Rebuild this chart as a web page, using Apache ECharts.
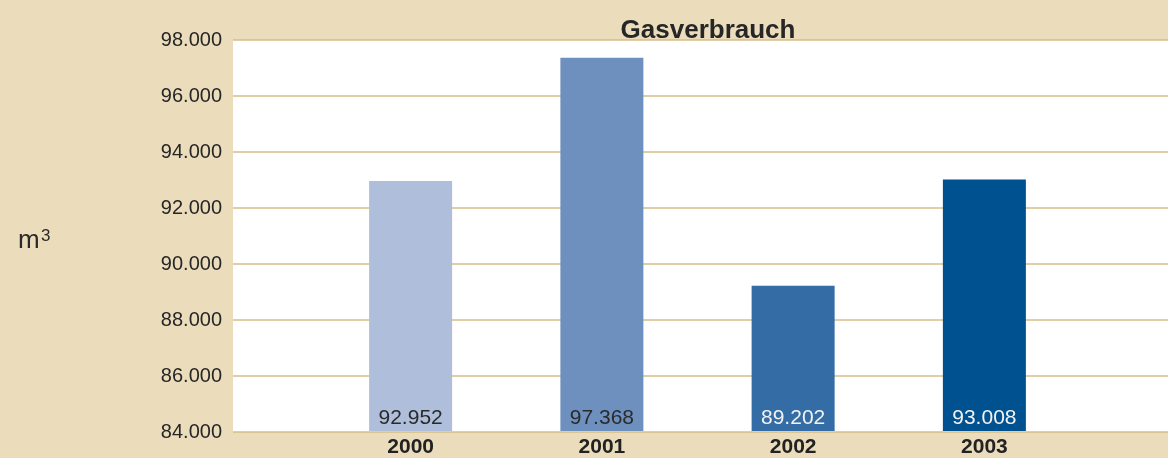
<!DOCTYPE html>
<html>
<head>
<meta charset="utf-8">
<script src="https://cdn.jsdelivr.net/npm/echarts@6/dist/echarts.min.js"></script>
<style>
html,body{margin:0;padding:0;background:#EBDDBC;}
#chart{width:1168px;height:458px;}
</style>
</head>
<body>
<div id="chart"></div>
<script>
const categories = ['2000', '2001', '2002', '2003'];
const gasValues = [92952, 97368, 89202, 93008];
const barColors = ['#AEBEDB', '#6E90BE', '#346CA5', '#00518F'];
const labelColors = ['#2a2a2a', '#2a2a2a', '#f2f2f2', '#f2f2f2'];
const yMin = 84000, yMax = 98000, yStep = 2000;
const titleText = 'Gasverbrauch';
const unitText = 'm';
const unitExp = '3';

function fmt(v) {
  return String(Math.round(v)).replace(/\B(?=(\d{3})+(?!\d))/g, '.');
}

const chart = echarts.init(document.getElementById('chart'));
const FONT = '"Liberation Sans", Arial, sans-serif';

chart.setOption({
  backgroundColor: '#EBDDBC',
  animation: false,
  title: {
    text: titleText,
    left: 703,
    top: 13,
    textAlign: 'center',
    textStyle: { fontFamily: FONT, fontWeight: 'bold', fontSize: 26, color: '#262626' }
  },
  graphic: [
    {
      type: 'text', left: 18, top: 228,
      style: { text: unitText, font: '26px ' + FONT, fill: '#2a2a2a' }
    },
    {
      type: 'text', left: 41, top: 228,
      style: { text: unitExp, font: '17px ' + FONT, fill: '#2a2a2a' }
    }
  ],
  grid: [
    { left: 233, right: 0, top: 40, bottom: 26, show: true, backgroundColor: '#ffffff', borderWidth: 0 },
    { left: 315, right: 88, top: 40, bottom: 26 }
  ],
  xAxis: [
    { gridIndex: 0, type: 'value', show: false, min: 0, max: 1 },
    {
      gridIndex: 1, type: 'category', data: categories,
      axisLine: { show: false }, axisTick: { show: false },
      axisLabel: { margin: 6, fontFamily: FONT, fontWeight: 'bold', fontSize: 21, color: '#222' }
    }
  ],
  yAxis: [
    {
      gridIndex: 0, type: 'value', min: yMin, max: yMax, interval: yStep,
      axisLine: { show: false }, axisTick: { show: false },
      splitLine: { show: true, lineStyle: { color: '#D5BE88', width: 1.5 } },
      axisLabel: { margin: 11, fontFamily: FONT, fontSize: 20, color: '#262626', formatter: v => fmt(v) }
    },
    { gridIndex: 1, type: 'value', min: yMin, max: yMax, show: false, splitLine: { show: false } }
  ],
  series: [{
    type: 'bar',
    xAxisIndex: 1, yAxisIndex: 1,
    barWidth: 83,
    data: gasValues.map((v, i) => ({
      value: v,
      itemStyle: { color: barColors[i] },
      label: { color: labelColors[i] }
    })),
    label: {
      show: true, position: 'insideBottom', distance: 2,
      fontFamily: FONT, fontSize: 21,
      formatter: p => fmt(p.value)
    }
  }]
});
</script>
</body>
</html>
